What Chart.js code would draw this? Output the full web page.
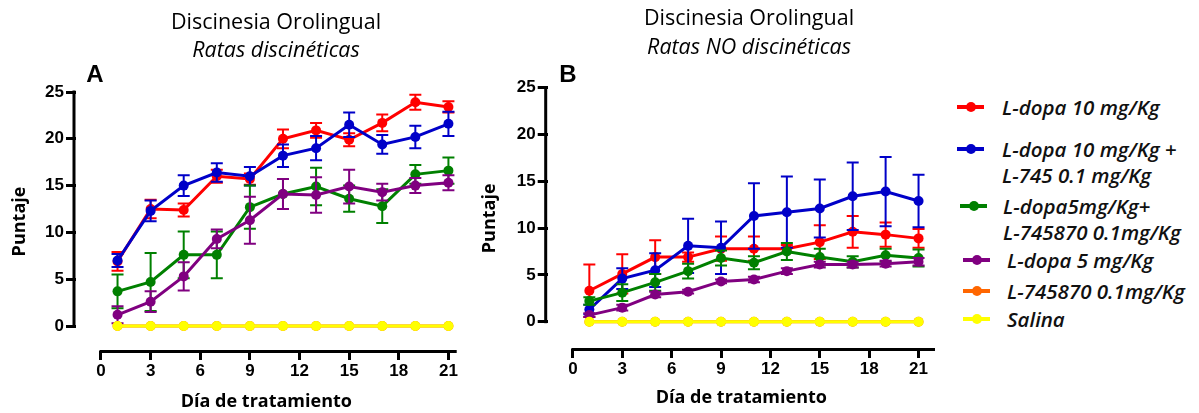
<!DOCTYPE html>
<html>
<head>
<meta charset="utf-8">
<script src="https://cdn.jsdelivr.net/npm/chart.js@4.4.0/dist/chart.umd.min.js"></script>
<style>
  body { margin: 0; background: #fff; }
  #page { position: relative; width: 1199px; height: 413px; overflow: hidden; background: #fff; }
  canvas { position: absolute; top: 0; }
  .title { position: absolute; transform: translate(-50%, -50%); white-space: nowrap;
           font-family: "Open Sans", sans-serif; font-size: 21.5px; color: #000; }
  .title.sub { font-style: italic; }
  .panel { position: absolute; transform: translate(-50%, -50%);
           font-family: "Liberation Sans", Arial, sans-serif; font-weight: bold; font-size: 24px; }
  .leg { position: absolute; font-family: "Open Sans", sans-serif; font-style: italic;
         font-weight: 600; font-size: 20.5px; line-height: 26px; color: #111; white-space: nowrap; }
  .sym { position: absolute; height: 4px; }
  .sym i { position: absolute; left: 50%; top: 50%; width: 10px; height: 10px;
           border-radius: 50%; transform: translate(-50%, -50%); }
</style>
</head>
<body>
<div id="page">
  <canvas id="chartA" width="470" height="413" style="left:0"></canvas>
  <canvas id="chartB" width="470" height="413" style="left:470px"></canvas>
  <div class="title" style="left:276px; top:20px">Discinesia Orolingual</div>
  <div class="title sub" style="left:276px; top:48px">Ratas discinéticas</div>
  <div class="title" style="left:749px; top:16px">Discinesia Orolingual</div>
  <div class="title sub" style="left:749px; top:45px">Ratas NO discinéticas</div>
  <div class="panel" style="left:95px; top:74px">A</div>
  <div class="panel" style="left:568px; top:74px">B</div>
  <div id="legend"></div>
</div>
<script>
// Treatment days (x values) and axis ticks
const days = [1, 3, 5, 7, 9, 11, 13, 15, 17, 19, 21];
const xTicks = [0, 3, 6, 9, 12, 15, 18, 21];
const yTicks = [0, 5, 10, 15, 20, 25];

// Group names and colours
const seriesNames = [
  ['L-dopa 10 mg/Kg'],
  ['L-dopa 10 mg/Kg +', 'L-745 0.1 mg/Kg'],
  ['L-dopa5mg/Kg+', 'L-745870 0.1mg/Kg'],
  ['L-dopa 5 mg/Kg'],
  ['L-745870 0.1mg/Kg'],
  ['Salina']
];
const seriesColors = ['#ff0000', '#0000c8', '#008000', '#800080', '#ff6600', '#ffff00'];

// Panel A: dyskinetic rats (mean, SEM)
const ldopa10A = [6.9, 12.5, 12.4, 16.0, 15.7, 20.0, 20.9, 19.9, 21.7, 23.9, 23.4];
const ldopa10SemA = [1.0, 1.0, 0.7, 0.7, 0.6, 1.0, 0.8, 0.7, 0.9, 0.8, 0.6];
const ldopa10L745A = [7.0, 12.3, 15.0, 16.4, 16.0, 18.2, 19.0, 21.5, 19.4, 20.2, 21.6];
const ldopa10L745SemA = [0.7, 1.1, 1.1, 1.0, 1.0, 1.2, 1.3, 1.3, 1.0, 1.2, 1.3];
const ldopa5L745A = [3.7, 4.7, 7.6, 7.6, 12.7, 14.1, 14.9, 13.6, 12.8, 16.2, 16.6];
const ldopa5L745SemA = [1.8, 3.1, 2.5, 2.5, 2.3, 1.6, 2.0, 1.4, 1.8, 1.0, 1.4];
const ldopa5A = [1.2, 2.6, 5.3, 9.3, 11.3, 14.1, 14.0, 14.9, 14.3, 15.0, 15.3];
const ldopa5SemA = [0.9, 1.1, 1.5, 1.0, 2.5, 1.6, 1.9, 1.8, 0.9, 0.8, 0.8];
const l745A = [0, 0, 0, 0, 0, 0, 0, 0, 0, 0, 0];
const salinaA = [0, 0, 0, 0, 0, 0, 0, 0, 0, 0, 0];

// Panel B: non-dyskinetic rats (mean, SEM)
const ldopa10B = [3.3, 5.1, 6.9, 6.9, 7.8, 7.8, 7.8, 8.5, 9.6, 9.3, 8.9];
const ldopa10SemB = [2.8, 2.1, 1.8, 0.5, 1.3, 1.3, 0.4, 1.8, 1.7, 1.3, 1.0];
const ldopa10L745B = [1.3, 4.6, 5.5, 8.1, 7.9, 11.3, 11.7, 12.1, 13.4, 13.9, 12.9];
const ldopa10L745SemB = [0.5, 1.1, 1.8, 2.9, 2.8, 3.5, 3.8, 3.1, 3.6, 3.7, 2.8];
const ldopa5L745B = [2.2, 3.1, 4.2, 5.4, 6.8, 6.3, 7.5, 6.9, 6.4, 7.1, 6.8];
const ldopa5L745SemB = [0.4, 0.9, 0.9, 0.8, 0.8, 0.7, 0.9, 0.9, 0.6, 0.7, 0.9];
const ldopa5B = [0.7, 1.5, 2.9, 3.2, 4.3, 4.5, 5.4, 6.1, 6.1, 6.2, 6.4];
const ldopa5SemB = [0.2, 0.3, 0.3, 0.2, 0.2, 0.3, 0.3, 0.3, 0.3, 0.3, 0.4];
const l745B = [0, 0, 0, 0, 0, 0, 0, 0, 0, 0, 0];
const salinaB = [0, 0, 0, 0, 0, 0, 0, 0, 0, 0, 0];

// Vertical SEM bars with caps, drawn just before each series
const errorBars = {
  id: 'errorBars',
  beforeDatasetDraw(chart, args) {
    const ds = chart.data.datasets[args.index];
    if (!ds.errors) return;
    const { ctx } = chart;
    const xs = chart.scales.x, ys = chart.scales.y;
    ctx.save();
    ctx.strokeStyle = ds.borderColor;
    ctx.lineWidth = 2;
    ds.data.forEach((p, i) => {
      const e = ds.errors[i];
      if (!e) return;
      const px = xs.getPixelForValue(p.x);
      const top = ys.getPixelForValue(p.y + e);
      const bot = ys.getPixelForValue(p.y - e);
      ctx.beginPath();
      ctx.moveTo(px, top); ctx.lineTo(px, bot);
      ctx.moveTo(px - 6, top); ctx.lineTo(px + 6, top);
      ctx.moveTo(px - 6, bot); ctx.lineTo(px + 6, bot);
      ctx.stroke();
    });
    ctx.restore();
  }
};

// Detached axis lines: y from 0 to 25, x from 0 to the scale end
const prismAxes = {
  id: 'prismAxes',
  afterDraw(chart) {
    const { ctx, chartArea } = chart;
    const xs = chart.scales.x, ys = chart.scales.y;
    ctx.save();
    ctx.fillStyle = '#000';
    // y axis
    const y0 = ys.getPixelForValue(0), y25 = ys.getPixelForValue(25);
    ctx.fillRect(chartArea.left - 3.5, y25 - 1.5, 3, y0 - y25 + 3);
    // x axis
    const x0 = xs.getPixelForValue(0), xEnd = xs.getPixelForValue(xs.max);
    ctx.fillRect(x0 - 1.5, chartArea.bottom - 1, xEnd - x0 + 1.5, 3);
    ctx.restore();
  }
};

function makeDataset(i, values, errors) {
  return {
    label: seriesNames[i].join(' '),
    data: days.map((d, k) => ({ x: d, y: values[k] })),
    errors: errors,
    borderColor: seriesColors[i],
    backgroundColor: seriesColors[i],
    borderWidth: 3,
    pointRadius: 5,
    pointHoverRadius: 5,
    pointBorderWidth: 0,
    tension: 0,
    clip: false,
    order: 6 - i
  };
}

function makeChart(id, datasets, cfg) {
  const tickFont = { family: '"Liberation Sans", Arial, sans-serif', size: 17, weight: 'bold' };
  const titleFont = { family: '"Open Sans", sans-serif', size: 18, weight: 'bold' };
  return new Chart(document.getElementById(id).getContext('2d'), {
    type: 'line',
    data: { datasets: datasets },
    options: {
      responsive: false,
      animation: false,
      events: [],
      layout: { padding: { top: cfg.top, right: cfg.right, bottom: 0, left: 0 } },
      plugins: { legend: { display: false }, tooltip: { enabled: false } },
      scales: {
        x: {
          type: 'linear',
          min: cfg.xMin,
          max: cfg.xMax,
          afterBuildTicks: s => { s.ticks = xTicks.map(v => ({ value: v })); },
          afterFit: s => { s.height = cfg.xHeight; },
          border: { display: false },
          grid: { drawOnChartArea: false, drawTicks: true, tickLength: 9, lineWidth: 3, color: '#000' },
          ticks: { font: tickFont, color: '#000', padding: 1, maxRotation: 0 },
          title: { display: true, text: 'Día de tratamiento', font: titleFont, color: '#000',
                   padding: { top: 0, bottom: cfg.xTitlePad } }
        },
        y: {
          min: cfg.yMin,
          max: 25,
          afterBuildTicks: s => { s.ticks = yTicks.map(v => ({ value: v })); },
          afterFit: s => { s.width = cfg.yWidth; },
          border: { display: false },
          grid: { drawOnChartArea: false, drawTicks: true, tickLength: 10, lineWidth: 3, color: '#000' },
          ticks: { font: tickFont, color: '#000', padding: 2 },
          title: { display: true, text: 'Puntaje', font: titleFont, color: '#000',
                   padding: { top: 9, bottom: 0 } }
        }
      }
    },
    plugins: [errorBars, prismAxes]
  });
}

class OrolingualFigure {
  constructor() {
    this.buildLegend();
    this.chartA = makeChart('chartA', [
      makeDataset(0, ldopa10A, ldopa10SemA),
      makeDataset(1, ldopa10L745A, ldopa10L745SemA),
      makeDataset(2, ldopa5L745A, ldopa5L745SemA),
      makeDataset(3, ldopa5A, ldopa5SemA),
      makeDataset(4, l745A, null),
      makeDataset(5, salinaA, null)
    ], { top: 92, right: 13.3, xMin: -1.51, xMax: 21.5, yMin: -2.67, xHeight: 62, yWidth: 76, xTitlePad: 0 });
    this.chartB = makeChart('chartB', [
      makeDataset(0, ldopa10B, ldopa10SemB),
      makeDataset(1, ldopa10L745B, ldopa10L745SemB),
      makeDataset(2, ldopa5L745B, ldopa5L745SemB),
      makeDataset(3, ldopa5B, ldopa5SemB),
      makeDataset(4, l745B, null),
      makeDataset(5, salinaB, null)
    ], { top: 87.7, right: 3.3, xMin: -1.53, xMax: 22, yMin: -2.92, xHeight: 64, yWidth: 77.7, xTitlePad: 4 });
  }

  // legend on the right: symbol (line + dot) and the group name
  buildLegend() {
    const rows = [
      { y: 107, symX: 957, textX: 1002 },
      { y: 149, symX: 957, textX: 1002 },
      { y: 206, symX: 960, textX: 1003 },
      { y: 260, symX: 963, textX: 1007 },
      { y: 291, symX: 963, textX: 1007 },
      { y: 319, symX: 963, textX: 1007 }
    ];
    const box = document.getElementById('legend');
    seriesNames.forEach((lines, i) => {
      const r = rows[i];
      const sym = document.createElement('div');
      sym.className = 'sym';
      sym.style.cssText = `left:${r.symX}px; top:${r.y - 2}px; width:27px; background:${seriesColors[i]}`;
      const dot = document.createElement('i');
      dot.style.background = seriesColors[i];
      sym.appendChild(dot);
      box.appendChild(sym);
      const txt = document.createElement('div');
      txt.className = 'leg';
      txt.style.cssText = `left:${r.textX}px; top:${r.y - 13}px`;
      txt.innerHTML = lines.join('<br>');
      box.appendChild(txt);
    });
  }
}

document.addEventListener('DOMContentLoaded', () => {
  window.figure = new OrolingualFigure();
});
</script>
</body>
</html>
